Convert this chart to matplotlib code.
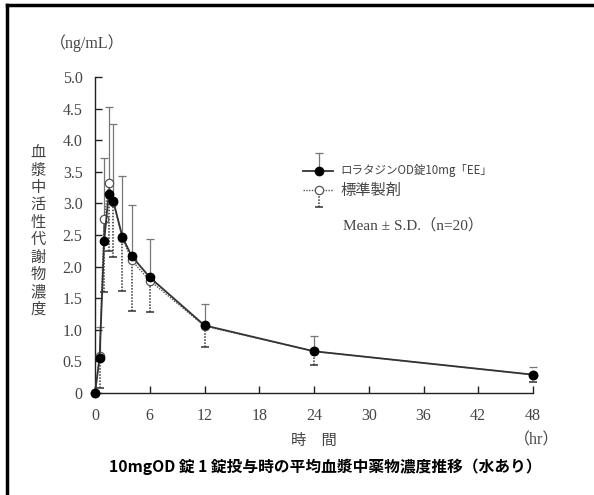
import matplotlib
matplotlib.use("Agg")
import matplotlib.pyplot as plt
import numpy as np

# ---- data ----
times = [0, 0.5, 1, 1.5, 2, 3, 4, 6, 12, 24, 48]
test_mean = [0, 0.55, 2.40, 3.15, 3.04, 2.47, 2.17, 1.83, 1.07, 0.66, 0.29]
test_sd = [0, 0.50, 1.32, 1.37, 1.21, 0.96, 0.81, 0.61, 0.34, 0.24, 0.12]
ref_mean = [0, 0.58, 2.75, 3.32, 3.03, 2.46, 2.10, 1.78, 1.06, 0.66, 0.29]
ref_sd = [0, 0.50, 1.15, 1.08, 0.88, 0.85, 0.80, 0.50, 0.33, 0.22, 0.12]

x_ticks = [0, 6, 12, 18, 24, 30, 36, 42, 48]
y_ticks = [0, 0.5, 1.0, 1.5, 2.0, 2.5, 3.0, 3.5, 4.0, 4.5, 5.0]
y_ticklabels = ["0", "0.5", "1.0", "1.5", "2.0", "2.5", "3.0", "3.5", "4.0", "4.5", "5.0"]

label_test = "ロラタジンOD錠10mg「EE」"
label_ref = "標準製剤"
ylabel_text = "血漿中活性代謝物濃度"
xlabel_text = "時　間"
caption = "10mgOD 錠 1 錠投与時の平均血漿中薬物濃度推移（水あり）"

SERIF = ["Liberation Serif", "Noto Sans CJK JP"]
CJK = ["Noto Sans CJK JP", "DejaVu Sans"]
GRAY = "#444444"

fig = plt.figure(figsize=(5.94, 4.95), dpi=100)
ax = fig.add_axes([95/594, 1-393/495, 438/594, 316/495])

t = np.array(times)
tm, ts = np.array(test_mean), np.array(test_sd)
rm, rs = np.array(ref_mean), np.array(ref_sd)
has_t = ts > 0
has_r = rs > 0

CAP = 6
MS = 6
# error bars: test upper (solid), reference lower (dotted)
ax.vlines(t[has_t], tm[has_t], (tm + ts)[has_t], colors="#777777", lw=0.9, zorder=2)
ax.plot(t[has_t], (tm + ts)[has_t], ls="none", marker="_", ms=CAP, mew=0.9, color="#777777", zorder=2)
ax.vlines(t[has_r], (rm - rs)[has_r], rm[has_r], colors="#333333", lw=1.1, linestyles=(0, (1, 1)), zorder=2)
ax.plot(t[has_r], (rm - rs)[has_r], ls="none", marker="_", ms=CAP, mew=1.1, color="#333333", zorder=2)

# series
ax.plot(t, rm, ls=(0, (1, 1)), lw=1.0, color="#555555", marker="o", ms=MS,
        mfc="white", mec="#555555", mew=0.9, zorder=3)
ax.plot(t, tm, ls="-", lw=1.3, color="#333333", marker="o", ms=MS,
        mfc="black", mec="black", zorder=4)

ax.set_xlim(0, 48)
ax.set_ylim(0, 5.0)
ax.spines["top"].set_visible(False)
ax.spines["right"].set_visible(False)
for s in ("left", "bottom"):
    ax.spines[s].set_color("#222222")
    ax.spines[s].set_linewidth(1.0)
ax.set_xticks(x_ticks)
ax.set_xticklabels([str(v) for v in x_ticks], fontfamily=SERIF, fontsize=11.5, color=GRAY)
ax.set_yticks(y_ticks)
ax.set_yticklabels(y_ticklabels, fontfamily=SERIF, fontsize=11.5, color=GRAY)
ax.tick_params(direction="in", length=5, width=1.0, color="#222222")
ax.tick_params(axis="x", pad=11)
ax.tick_params(axis="y", pad=9)
for ln in ax.lines:
    ln.set_clip_on(False)

# axis texts
fig.text(87/594, 1-43/495, "（ng/mL）", fontfamily=SERIF, fontsize=11.5, color=GRAY,
         ha="center", va="center")
fig.text(38/594, 1-231/495, "\n".join(ylabel_text), fontfamily=CJK, fontsize=11,
         color=GRAY, ha="center", va="center", linespacing=1.03)
fig.text(314/594, 1-440/495, xlabel_text, fontfamily=CJK, fontsize=11, color=GRAY,
         ha="center", va="center")
fig.text(537/594, 1-440/495, "（hr）", fontfamily=SERIF, fontsize=11.5, color=GRAY,
         ha="center", va="center")
fig.text(325/594, 1-467/495, caption, fontfamily=CJK, fontsize=11.3, color="black",
         ha="center", va="center", fontweight="bold")

# legend (drawn manually)
tr = ax.transAxes
x0, x1, xm = 0.475, 0.543, 0.511
ya, yb = 0.703, 0.642
ax.plot([xm, xm], [ya, 0.759], transform=tr, color="#777777", lw=0.9, clip_on=False)
ax.plot([xm], [0.759], transform=tr, marker="_", ms=CAP, mew=0.9, color="#777777", clip_on=False)
ax.plot([x0, x1], [ya, ya], transform=tr, color="#333333", lw=1.3, clip_on=False)
ax.plot([xm], [ya], transform=tr, marker="o", ms=MS, color="black", clip_on=False)
ax.plot([xm, xm], [0.589, yb], transform=tr, color="#333333", lw=1.1, ls=(0, (1, 1)), clip_on=False)
ax.plot([xm], [0.589], transform=tr, marker="_", ms=CAP, mew=1.1, color="#333333", clip_on=False)
ax.plot([x0, x1], [yb, yb], transform=tr, color="#555555", lw=1.0, ls=(0, (1, 1)), clip_on=False)
ax.plot([xm], [yb], transform=tr, marker="o", ms=MS, mfc="white", mec="#555555", mew=0.9, clip_on=False)
ax.text(0.560, ya, label_test, transform=tr, fontfamily=CJK, fontsize=8.3, color=GRAY, va="center")
ax.text(0.560, yb, label_ref, transform=tr, fontfamily=CJK, fontsize=11, color=GRAY, va="center")
ax.text(0.566, 0.532, "Mean ± S.D.（n=20）", transform=tr, fontfamily=SERIF, fontsize=11,
        color=GRAY, va="center")

# outer frame (left and top)
fig.add_artist(plt.Line2D([7/594, 7/594], [0, 1-5/495], color="black", lw=2.5))
fig.add_artist(plt.Line2D([7/594, 1], [1-5/495, 1-5/495], color="black", lw=2.5))

fig.savefig("out.png", dpi=100)
